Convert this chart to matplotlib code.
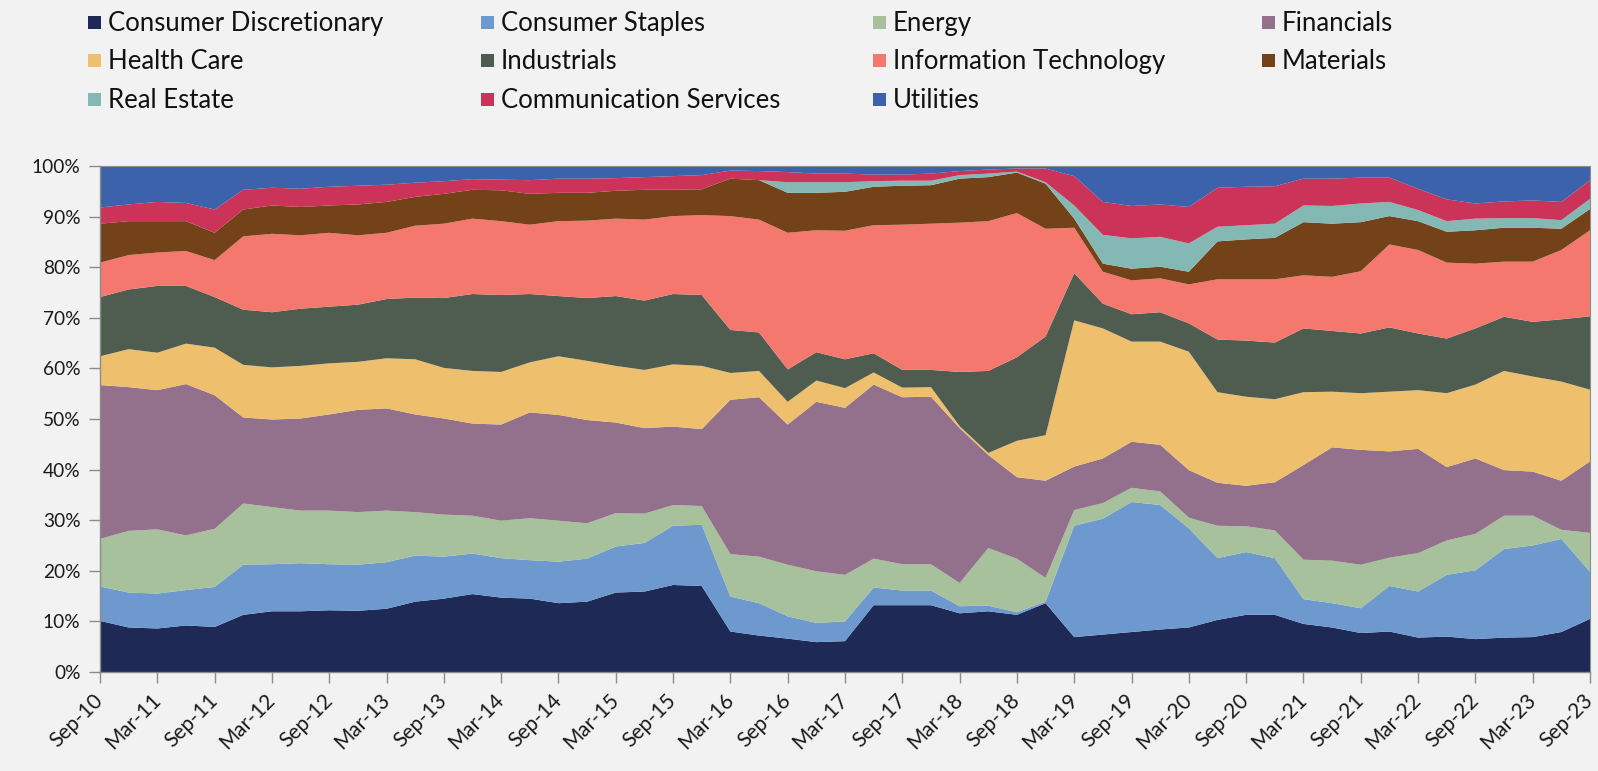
import matplotlib
matplotlib.use("Agg")
import matplotlib.pyplot as plt
from matplotlib.patches import Rectangle
import matplotlib.transforms as mtransforms
import numpy as np

plt.rcParams['font.family'] = ['Lato', 'DejaVu Sans']

# ---------------- data (sector weights, %, quarterly Sep-10 .. Sep-23) ----------------
sectors = ["Consumer Discretionary", "Consumer Staples", "Energy", "Financials",
           "Health Care", "Industrials", "Information Technology", "Materials",
           "Real Estate", "Communication Services", "Utilities"]

colors = ["#1F2956", "#6E99CF", "#A6C19B", "#93708C", "#EEC06D", "#4F5D50",
          "#F4786D", "#744218", "#84B8B4", "#CC3359", "#3C62AB"]

tick_labels = ["Sep-10", "Mar-11", "Sep-11", "Mar-12", "Sep-12", "Mar-13", "Sep-13",
               "Mar-14", "Sep-14", "Mar-15", "Sep-15", "Mar-16", "Sep-16", "Mar-17",
               "Sep-17", "Mar-18", "Sep-18", "Mar-19", "Sep-19", "Mar-20", "Sep-20",
               "Mar-21", "Sep-21", "Mar-22", "Sep-22", "Mar-23", "Sep-23"]

consumer_discretionary = [10.1, 8.8, 8.6, 9.2, 8.9, 11.3, 12.0, 12.0, 12.2, 12.1, 12.5, 13.9, 14.5, 15.4,
                          14.7, 14.5, 13.6, 13.9, 15.7, 15.9, 17.2, 17.0, 8.0, 7.2, 6.6, 5.9, 6.1,
                          13.2, 13.2, 13.2, 11.6, 12.0, 11.3, 13.6, 6.9, 7.4, 7.9, 8.4, 8.8, 10.3,
                          11.3, 11.3, 9.5, 8.8, 7.7, 8.0, 6.8, 7.0, 6.5, 6.8, 6.9, 7.9, 10.5]
consumer_staples = [6.8, 6.9, 6.9, 7.0, 7.9, 9.9, 9.3, 9.5, 9.1, 9.1, 9.2, 9.1, 8.3, 8.0,
                    7.8, 7.6, 8.2, 8.5, 9.1, 9.6, 11.7, 12.1, 6.9, 6.4, 4.4, 3.8, 3.9,
                    3.5, 2.9, 2.9, 1.4, 1.1, 0.5, 0.3, 22.0, 22.9, 25.7, 24.6, 19.6, 12.2,
                    12.4, 11.2, 4.9, 4.8, 4.9, 9.0, 9.1, 12.2, 13.6, 17.5, 18.1, 18.4, 9.3]
energy = [9.4, 12.2, 12.7, 10.8, 11.5, 12.1, 11.3, 10.4, 10.6, 10.4, 10.2, 8.6, 8.3, 7.5,
          7.4, 8.3, 8.1, 7.0, 6.6, 5.8, 4.1, 3.7, 8.4, 9.2, 10.2, 10.2, 9.2,
          5.7, 5.2, 5.2, 4.6, 11.4, 10.6, 4.7, 3.1, 3.1, 2.8, 2.7, 2.1, 6.4,
          5.1, 5.5, 7.8, 8.4, 8.6, 5.6, 7.6, 6.8, 7.2, 6.6, 5.9, 1.8, 7.7]
financials = [30.4, 28.4, 27.5, 29.9, 26.4, 17.0, 17.3, 18.2, 19.0, 20.2, 20.2, 19.3, 19.0, 18.2,
              19.0, 20.9, 20.9, 20.4, 17.9, 16.9, 15.5, 15.2, 30.5, 31.5, 27.7, 33.5, 33.0,
              34.4, 33.0, 33.1, 30.6, 18.4, 16.1, 19.2, 8.6, 8.8, 9.1, 9.2, 9.4, 8.5,
              8.0, 9.5, 18.7, 22.4, 22.7, 21.0, 20.6, 14.5, 14.9, 9.0, 8.7, 9.7, 14.1]
health_care = [5.7, 7.5, 7.4, 8.0, 9.4, 10.4, 10.3, 10.4, 10.1, 9.5, 9.9, 10.9, 10.0, 10.4,
               10.4, 9.9, 11.6, 11.7, 11.2, 11.5, 12.3, 12.5, 5.3, 5.2, 4.5, 4.2, 3.9,
               2.4, 1.9, 1.9, 0.4, 0.4, 7.2, 9.0, 28.9, 25.7, 19.8, 20.4, 23.4, 17.9,
               17.6, 16.4, 14.4, 11.0, 11.2, 11.8, 11.6, 14.6, 14.6, 19.6, 18.8, 19.6, 14.2]
industrials = [11.7, 11.8, 13.2, 11.4, 10.0, 10.9, 10.9, 11.3, 11.2, 11.3, 11.7, 12.2, 13.8, 15.2,
               15.2, 13.5, 11.9, 12.4, 13.8, 13.7, 13.9, 14.0, 8.5, 7.6, 6.4, 5.6, 5.7,
               3.8, 3.5, 3.4, 10.7, 16.2, 16.5, 19.5, 9.3, 4.9, 5.4, 5.8, 5.6, 10.4,
               11.1, 11.2, 12.6, 12.0, 11.8, 12.7, 11.2, 10.8, 11.1, 10.7, 10.8, 12.3, 14.5]
information_technology = [6.8, 6.8, 6.6, 6.9, 7.3, 14.5, 15.5, 14.5, 14.6, 13.7, 13.1, 14.2, 14.7, 14.9,
                          14.6, 13.7, 14.8, 15.3, 15.3, 16.0, 15.4, 15.8, 22.5, 22.3, 27.0, 24.1, 25.4,
                          25.3, 28.7, 28.9, 29.5, 29.6, 28.5, 21.3, 9.0, 6.3, 6.7, 6.7, 7.7, 11.9,
                          12.1, 12.5, 10.5, 10.7, 12.3, 16.4, 16.5, 15.0, 12.8, 10.9, 11.9, 13.7, 17.0]
materials = [7.7, 6.7, 6.2, 5.9, 5.4, 5.3, 5.6, 5.6, 5.4, 6.1, 6.1, 5.7, 5.9, 5.7,
             6.1, 6.1, 5.6, 5.5, 5.5, 5.9, 5.2, 5.1, 7.4, 7.8, 7.9, 7.4, 7.7,
             7.6, 7.7, 7.6, 8.7, 8.7, 8.0, 8.9, 1.8, 1.6, 2.3, 2.3, 2.5, 7.5,
             7.9, 8.2, 10.5, 10.5, 9.7, 5.6, 5.7, 6.1, 6.6, 6.7, 6.7, 4.2, 4.2]
real_estate = [0.0, 0.0, 0.0, 0.0, 0.0, 0.0, 0.0, 0.0, 0.0, 0.0, 0.0, 0.0, 0.0, 0.0,
               0.0, 0.0, 0.0, 0.0, 0.0, 0.0, 0.0, 0.0, 0.0, 0.0, 2.1, 2.1, 1.9,
               1.1, 1.0, 0.9, 0.7, 0.7, 0.2, 0.3, 2.6, 5.7, 6.0, 5.9, 5.6, 2.9,
               2.8, 2.8, 3.3, 3.5, 3.7, 2.8, 2.2, 2.1, 2.3, 1.9, 1.9, 1.7, 2.0]
communication_services = [3.2, 3.3, 3.8, 3.6, 4.6, 3.9, 3.5, 3.6, 3.7, 3.7, 3.4, 2.8, 2.5, 2.1,
                          2.1, 2.7, 2.8, 2.8, 2.5, 2.5, 2.7, 2.8, 1.6, 1.8, 2.0, 1.7, 1.7,
                          1.3, 1.2, 1.4, 0.8, 0.8, 0.6, 2.7, 5.8, 6.5, 6.4, 6.4, 7.2, 7.7,
                          7.6, 7.4, 5.3, 5.4, 5.1, 4.8, 4.2, 4.3, 3.0, 3.3, 3.5, 3.6, 3.7]
utilities = [8.2, 7.6, 7.1, 7.3, 8.6, 4.7, 4.3, 4.5, 4.1, 3.9, 3.7, 3.3, 3.0, 2.6,
             2.7, 2.8, 2.5, 2.5, 2.4, 2.2, 2.0, 1.8, 0.9, 1.0, 1.2, 1.5, 1.5,
             1.7, 1.7, 1.5, 1.0, 0.7, 0.5, 0.5, 2.0, 7.1, 7.9, 7.6, 8.1, 4.3,
             4.1, 4.0, 2.5, 2.5, 2.3, 2.3, 4.5, 6.6, 7.4, 7.0, 6.8, 7.1, 2.8]

series = [consumer_discretionary, consumer_staples, energy, financials, health_care,
          industrials, information_technology, materials, real_estate,
          communication_services, utilities]

# ---------------- figure ----------------
W, H = 1598, 771
BG = "#F2F2F2"
fig = plt.figure(figsize=(W / 100, H / 100), dpi=100, facecolor=BG)

left, right, top, bottom = 100, 1590, 166, 672
ax = fig.add_axes([left / W, 1 - bottom / H, (right - left) / W, (bottom - top) / H])
ax.set_facecolor(BG)

x = np.arange(len(consumer_discretionary))
ax.stackplot(x, *series, colors=colors, linewidth=0, edgecolor="none",
             antialiased=True)

ax.set_xlim(0, len(x) - 1)
ax.set_ylim(0, 100)

spine_c = "#8C8C8C"
for s in ["left", "bottom", "top", "right"]:
    ax.spines[s].set_color(spine_c)
    ax.spines[s].set_linewidth(1.0)
ax.spines["top"].set_linewidth(0.8)
ax.spines["right"].set_linewidth(0.8)

ax.set_yticks(np.arange(0, 101, 10))
ax.set_yticklabels([f"{v}%" for v in range(0, 101, 10)], fontsize=13.8, color="#1a1a1a")
ax.set_xticks(np.arange(0, len(x), 2))
ax.set_xticklabels(tick_labels, fontsize=15, color="#1a1a1a", rotation=45,
                   ha="right", va="top", rotation_mode="anchor")
ax.tick_params(axis="both", direction="out", length=8, width=1.0, color=spine_c)
ax.tick_params(axis="y", pad=6)
ax.tick_params(axis="x", pad=5)

shift = mtransforms.ScaledTranslation(-7 / 100, 0, fig.dpi_scale_trans)
for lbl in ax.get_xticklabels():
    lbl.set_transform(lbl.get_transform() + shift)

# ---------------- legend (manual, 4 columns x 3 rows) ----------------
col_x = [88, 481, 873, 1262]
row_y = [22.6, 60.6, 99.2]
msize = 13
for i, (name, c) in enumerate(zip(sectors, colors)):
    r, cidx = divmod(i, 4)
    mx, my = col_x[cidx], row_y[r]
    fig.add_artist(Rectangle((mx / W, 1 - (my + msize / 2) / H), msize / W, msize / H,
                             transform=fig.transFigure, facecolor=c, edgecolor="none"))
    fig.text((mx + 20) / W, 1 - (my + 1) / H, name, fontsize=18.5, color="#111111",
             ha="left", va="center")

fig.savefig("out.png", dpi=100, facecolor=BG)
